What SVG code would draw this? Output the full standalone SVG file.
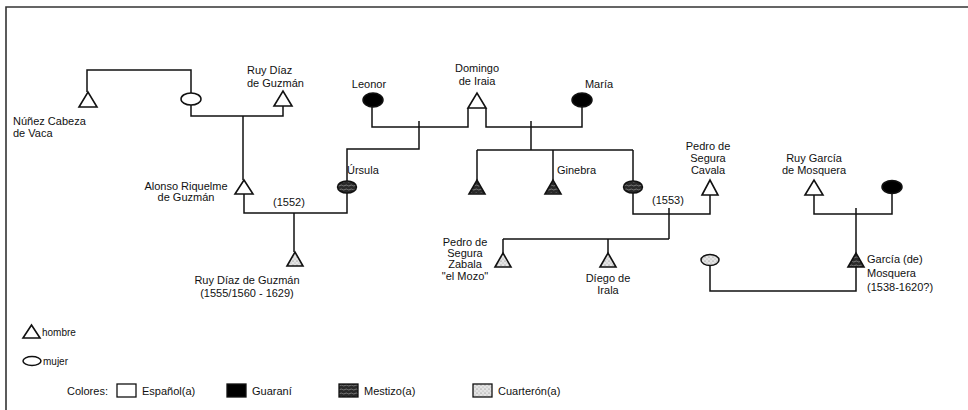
<svg xmlns="http://www.w3.org/2000/svg" width="968" height="410" viewBox="0 0 968 410">
<defs>
<pattern id="mest" width="5" height="4" patternUnits="userSpaceOnUse">
<rect width="5" height="4" fill="#2a2a2a"/>
<path d="M0 1.5 Q1.25 0.5 2.5 1.5 T5 1.5" fill="none" stroke="#9a9a9a" stroke-width="0.7"/>
</pattern>
<pattern id="cuar" width="4" height="4" patternUnits="userSpaceOnUse">
<rect width="4" height="4" fill="#e4e4e4"/>
<circle cx="1" cy="1" r="0.6" fill="#777"/>
<circle cx="3" cy="3" r="0.5" fill="#999"/>
</pattern>
</defs>
<style>
text{font-family:"Liberation Sans",Arial,sans-serif;font-size:11px;fill:#111}
.c{text-anchor:middle}
.ln{fill:none;stroke:#111;stroke-width:1.5}
.tri{stroke:#111;stroke-width:1.6;stroke-linejoin:miter}
.ell{stroke:#111;stroke-width:1.5}
.w{fill:#fff}
.b{fill:#000}
.m{fill:url(#mest)}
.q{fill:url(#cuar)}
</style>
<rect width="968" height="410" fill="#fff"/>
<path d="M6 410 V7 H968" fill="none" stroke="#333" stroke-width="1.6"/>

<g id="connectors" class="ln">
<path d="M87 92 V70 H191 V93"/>
<path d="M191 105 V116 H283 V106"/>
<path d="M243 116 V180"/>
<path d="M244 194 V213 H347 V193"/>
<path d="M294 213 V252"/>
<path d="M372 107 V127 H468 V108"/>
<path d="M486 108 V127 H582 V107"/>
<path d="M419 121 V149 H347 V181"/>
<path d="M531 121 V150"/>
<path d="M477 150 H633"/>
<path d="M477 150 V180"/>
<path d="M553 150 V180"/>
<path d="M633 150 V181"/>
<path d="M633 193 V214 H710 V195"/>
<path d="M669 208 V239"/>
<path d="M503 239 H669"/>
<path d="M503 239 V253"/>
<path d="M608 239 V253"/>
<path d="M710 265 V291 H856 V267"/>
<path d="M814 195 V214 H892 V193"/>
<path d="M856 208 V253"/>
</g>

<g id="nunez">
<path class="tri w" d="M79 107 L88 92 L97 107 Z"/>
<text x="13" y="125">Núñez Cabeza</text>
<text x="13" y="137">de Vaca</text>
</g>
<g id="madre">
<ellipse class="ell w" cx="191" cy="99" rx="10" ry="6"/>
</g>
<g id="ruy-diaz-padre">
<path class="tri w" d="M274 106 L283 91 L292 106 Z"/>
<text x="247" y="74">Ruy Díaz</text>
<text x="247" y="87">de Guzmán</text>
</g>
<g id="alonso">
<path class="tri w" d="M235 194 L244 180 L253 194 Z"/>
<text class="c" x="186" y="190">Alonso Riquelme</text>
<text class="c" x="186" y="201">de Guzmán</text>
</g>
<g id="ursula">
<ellipse class="ell m" cx="347" cy="187" rx="9.5" ry="6"/>
<text x="347" y="174">Úrsula</text>
</g>
<g id="ruy-diaz-hijo">
<path class="tri q" d="M287 266 L295 252 L303 266 Z"/>
<text class="c" x="247" y="284">Ruy Díaz de Guzmán</text>
<text class="c" x="247" y="297">(1555/1560 - 1629)</text>
</g>
<text class="c" x="289" y="206">(1552)</text>
<g id="leonor">
<ellipse class="ell b" cx="373" cy="100" rx="10" ry="7"/>
<text class="c" x="369" y="88">Leonor</text>
</g>
<g id="domingo">
<path class="tri w" d="M468 108 L477 93 L486 108 Z"/>
<text class="c" x="477" y="72">Domingo</text>
<text class="c" x="477" y="85">de Iraia</text>
</g>
<g id="maria">
<ellipse class="ell b" cx="582" cy="100" rx="10" ry="7"/>
<text class="c" x="599" y="88">María</text>
</g>
<g id="hijo-mestizo">
<path class="tri m" d="M469 194 L477 180 L485 194 Z"/>
</g>
<g id="ginebra">
<path class="tri m" d="M545 194 L553 180 L561 194 Z"/>
<text x="557" y="174">Ginebra</text>
</g>
<g id="hija-mestiza">
<ellipse class="ell m" cx="633" cy="187" rx="9.5" ry="6"/>
</g>
<g id="pedro-cavala">
<path class="tri w" d="M702 195 L710 180 L718 195 Z"/>
<text class="c" x="708" y="150">Pedro de</text>
<text class="c" x="708" y="162">Segura</text>
<text class="c" x="708" y="174">Cavala</text>
</g>
<text class="c" x="668" y="204">(1553)</text>
<g id="ruy-garcia">
<path class="tri w" d="M805 195 L814 180 L823 195 Z"/>
<text class="c" x="814" y="162">Ruy García</text>
<text class="c" x="814" y="174">de Mosquera</text>
</g>
<g id="esposa-guarani">
<ellipse class="ell b" cx="892" cy="187" rx="10" ry="6.5"/>
</g>
<g id="pedro-zabala">
<path class="tri q" d="M495 267 L503 253 L511 267 Z"/>
<text class="c" x="465" y="246">Pedro de</text>
<text class="c" x="465" y="257">Segura</text>
<text class="c" x="465" y="268">Zabala</text>
<text class="c" x="465" y="280">"el Mozo"</text>
</g>
<g id="diego">
<path class="tri q" d="M600 267 L608 253 L616 267 Z"/>
<text class="c" x="608" y="282">Díego de</text>
<text class="c" x="608" y="294">Irala</text>
</g>
<g id="hija-cuarteron">
<ellipse class="ell q" cx="710" cy="260" rx="9" ry="5.5"/>
</g>
<g id="garcia">
<path class="tri m" d="M848 267 L856 253 L864 267 Z"/>
<text x="867" y="263">García (de)</text>
<text x="867" y="277">Mosquera</text>
<text x="867" y="291">(1538-1620?)</text>
</g>

<g id="legend">
<path class="tri w" d="M23 338 L31.5 325 L40 338 Z"/>
<text x="42" y="336" style="font-size:10px">hombre</text>
<ellipse class="ell w" cx="32" cy="361" rx="9" ry="4.5"/>
<text x="43" y="365" style="font-size:10px">mujer</text>
<text x="67" y="395">Colores:</text>
<rect x="117" y="384" width="19" height="13" fill="#fff" stroke="#111" stroke-width="1.3"/>
<text x="142" y="395">Español(a)</text>
<rect x="227" y="384" width="19" height="13" fill="#000" stroke="#111" stroke-width="1.3"/>
<text x="252" y="395">Guaraní</text>
<rect x="339" y="384" width="19" height="13" fill="url(#mest)" stroke="#111" stroke-width="1.3"/>
<text x="364" y="395">Mestizo(a)</text>
<rect x="473" y="384" width="19" height="13" fill="url(#cuar)" stroke="#111" stroke-width="1.3"/>
<text x="498" y="395">Cuarterón(a)</text>
</g>
</svg>
